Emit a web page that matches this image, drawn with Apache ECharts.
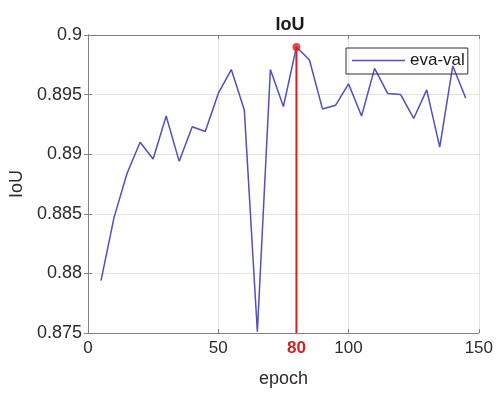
<!DOCTYPE html>
<html>
<head>
<meta charset="utf-8">
<script src="https://cdn.jsdelivr.net/npm/echarts@6/dist/echarts.min.js"></script>
<style>
  html, body { margin: 0; padding: 0; background: #fff; }
  #chart { width: 496px; height: 393px; }
</style>
</head>
<body>
<div id="chart"></div>
<script>
// values
var epochs = [5, 10, 15, 20, 25, 30, 35, 40, 45, 50, 55, 60, 65, 70, 75,
              80, 85, 90, 95, 100, 105, 110, 115, 120, 125, 130, 135, 140, 145];
var iou = [0.8794, 0.8847, 0.8884, 0.8910, 0.8896, 0.8932, 0.8894, 0.8923, 0.8919, 0.8951,
           0.8971, 0.8937, 0.8751, 0.8971, 0.8940, 0.8990, 0.8979, 0.8938, 0.8941, 0.8959,
           0.8932, 0.8972, 0.8951, 0.8950, 0.8930, 0.8954, 0.8906, 0.8974, 0.8947];
var bestEpoch = 80;
var bestIou = 0.8990;

var font = 'Liberation Sans, Arial, sans-serif';
var axisGray = '#808080';
var textGray = '#2b2b2b';
var lineBlue = '#5050c0';
var red = '#d91e1e';

var chart = echarts.init(document.getElementById('chart'));

var pairs = epochs.map(function (e, i) { return [e, iou[i]]; });

var option = {
    backgroundColor: '#fff',
    animation: false,
    title: {
        text: 'IoU',
        left: 285, textAlign: 'center',
        top: 11,
        textStyle: { fontFamily: font, fontSize: 18, fontWeight: 'bold', color: '#1a1a1a' }
    },
    legend: {
        data: ['eva-val'],
        left: 346, top: 48,
        padding: [4, 3, 5, 6],
        borderColor: '#333', borderWidth: 1,
        backgroundColor: 'transparent',
        icon: 'rect',
        itemWidth: 53, itemHeight: 1.5,
        textStyle: { fontFamily: font, fontSize: 17, color: '#1a1a1a' }
    },
    grid: { left: 88, right: 14, top: 35, bottom: 59 },
    xAxis: [{
        type: 'value',
        min: 0, max: 150, interval: 50,
        name: 'epoch', nameLocation: 'middle', nameGap: 37,
        nameTextStyle: { fontFamily: font, fontSize: 18, color: textGray },
        axisLine: { show: true, lineStyle: { color: axisGray, width: 1 } },
        axisTick: { show: true, inside: true, length: 4, lineStyle: { color: axisGray } },
        axisLabel: {
            margin: 7,
            customValues: [0, 50, bestEpoch, 100, 150],
            fontFamily: font, fontSize: 17, color: textGray,
            formatter: function (v) {
                return v === bestEpoch ? '{r|' + v + '}' : String(v);
            },
            rich: { r: { fontFamily: font, fontSize: 17, color: red, fontWeight: 'bold' } }
        },
        splitLine: { show: true, lineStyle: { color: '#e3e3e3', width: 1 } }
    }, {
        type: 'value', position: 'top',
        min: 0, max: 150, interval: 50,
        axisLine: { show: true, lineStyle: { color: axisGray, width: 1 } },
        axisTick: { show: true, inside: true, length: 4, lineStyle: { color: axisGray } },
        axisLabel: { show: false },
        splitLine: { show: false }
    }],
    yAxis: [{
        type: 'value',
        min: 0.875, max: 0.9, interval: 0.005,
        name: 'IoU', nameLocation: 'middle', nameGap: 60,
        nameTextStyle: { fontFamily: font, fontSize: 18, color: textGray },
        axisLine: { show: true, lineStyle: { color: axisGray, width: 1 } },
        axisTick: { show: true, inside: true, length: 4, lineStyle: { color: axisGray } },
        axisLabel: {
            margin: 6,
            fontFamily: font, fontSize: 18, color: textGray,
            formatter: function (v) { return String(+v.toFixed(3)); }
        },
        splitLine: { show: true, lineStyle: { color: '#e3e3e3', width: 1 } }
    }, {
        type: 'value', position: 'right',
        min: 0.875, max: 0.9, interval: 0.005,
        axisLine: { show: true, lineStyle: { color: axisGray, width: 1 } },
        axisTick: { show: true, inside: true, length: 4, lineStyle: { color: axisGray } },
        axisLabel: { show: false },
        splitLine: { show: false }
    }],
    series: [{
        name: 'eva-val',
        type: 'line',
        data: pairs,
        showSymbol: false,
        symbol: 'none',
        lineStyle: { color: lineBlue, width: 1.5 },
        itemStyle: { color: lineBlue },
        z: 3
    }, {
        name: 'best',
        type: 'line',
        data: [[bestEpoch, 0.875], [bestEpoch, bestIou]],
        symbol: 'none',
        lineStyle: { color: red, width: 2 },
        z: 4
    }, {
        name: 'bestPoint',
        type: 'scatter',
        data: [[bestEpoch, bestIou]],
        symbolSize: 8,
        itemStyle: { color: red },
        z: 5
    }]
};

chart.setOption(option);
</script>
</body>
</html>
